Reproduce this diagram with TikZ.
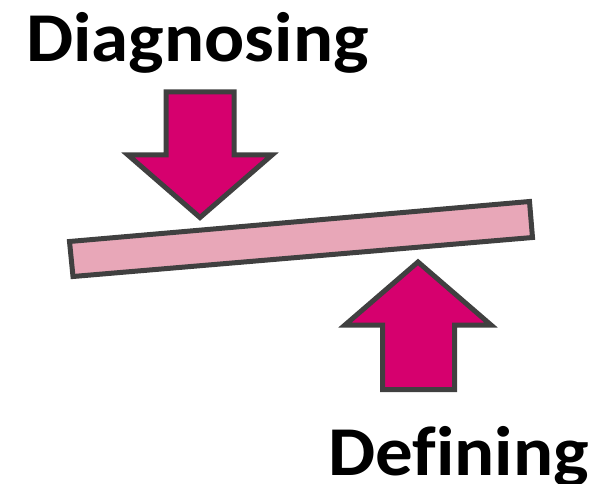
\documentclass[tikz,border=0pt]{standalone}
\usepackage{fontspec}
\setmainfont{Carlito}
\newfontfamily\labelfont[FakeStretch=1.07,Ligatures=NoCommon]{Carlito}
\definecolor{magentafill}{RGB}{214,0,110}
\definecolor{pinkfill}{RGB}{232,167,184}
\definecolor{edgegray}{RGB}{64,64,64}
\begin{document}
\begin{tikzpicture}[x=1pt,y=-1pt,
  shapeline/.style={draw=edgegray,line width=5pt,line join=miter,miter limit=10},
  arrowshape/.style={shapeline,fill=magentafill},
  barshape/.style={shapeline,fill=pinkfill},
  label/.style={font=\labelfont\bfseries\fontsize{70}{84}\selectfont,inner sep=0pt,text=black}]
\useasboundingbox (0,0) rectangle (600,484);
% bar
\coordinate (btl) at (69.5,241.5);
\coordinate (btr) at (529.5,201.5);
\coordinate (bbr) at (532.5,237.5);
\coordinate (bbl) at (73,276.5);
\draw[barshape] (btl) -- (btr) -- (bbr) -- (bbl) -- cycle;
% down arrow
\draw[arrowshape] (166,92) -- (234,92) -- (234,155) -- (272,155) -- (200,217.5) -- (128,155) -- (166,155) -- cycle;
% up arrow
\draw[arrowshape] (382.5,389.5) -- (454.5,389.5) -- (454.5,325) -- (491,325) -- (418,262) -- (345,325) -- (382.5,325) -- cycle;
% labels
\node[label,anchor=base west] (diag) at (26,62) {Diagnosing};
\node[label,anchor=base west] (def) at (328,475) {Defining};
\end{tikzpicture}
\end{document}
